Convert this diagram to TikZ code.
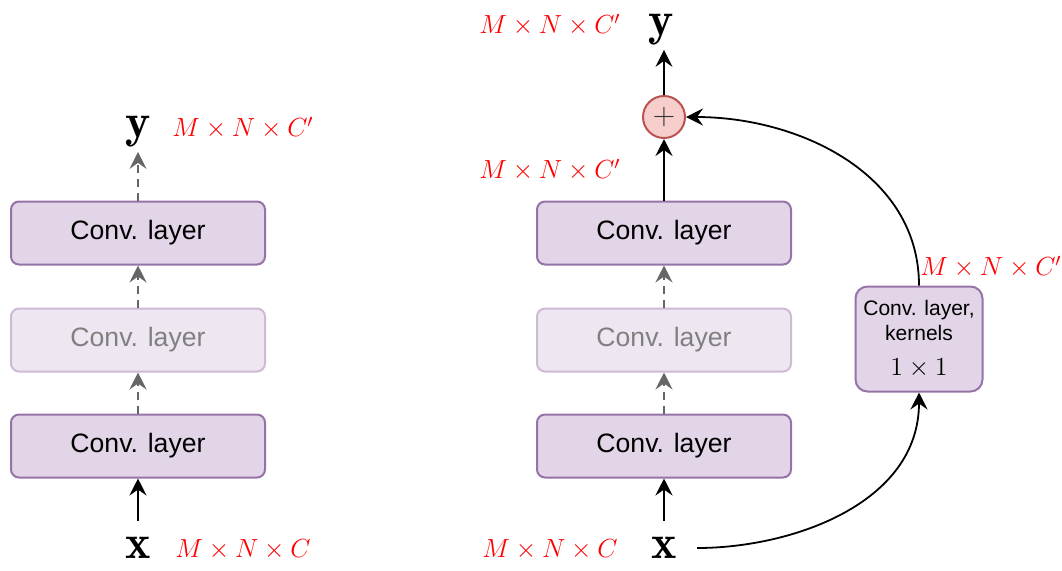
\RequirePackage{fix-cm}
\documentclass[tikz,border=0pt]{standalone}
\usepackage{fontspec}
\newfontfamily\arial{Liberation Sans}
\usetikzlibrary{arrows.meta}
\definecolor{layerfill}{HTML}{E1D5E7}
\definecolor{layerdraw}{HTML}{9673A6}
\definecolor{ghostfill}{HTML}{EEE7F1}
\definecolor{ghostdraw}{HTML}{CDBBD4}
\definecolor{sumfill}{HTML}{F8CECC}
\definecolor{sumdraw}{HTML}{B85450}
\definecolor{dimred}{HTML}{FF0000}
\tikzset{
  layer/.style={draw=layerdraw, fill=layerfill, line width=1pt, rounded corners=4pt,
    minimum width=127pt, minimum height=31.5pt, font=\arial\fontsize{13.3}{15}\selectfont},
  ghost/.style={layer, draw=ghostdraw, fill=ghostfill, text=black!50},
  sidelayer/.style={layer, minimum width=63.5pt, minimum height=52.5pt, rounded corners=6pt,
    align=center, inner sep=1pt, font=\arial\fontsize{10.5}{12.5}\selectfont},
  sumnode/.style={circle, draw=sumdraw, fill=sumfill, line width=1pt, minimum size=21pt, inner sep=0pt,
    font=\fontsize{15}{15}\selectfont, text=black!80},
  vec/.style={font=\fontsize{24}{26}\selectfont, inner sep=2pt},
  dims/.style={text=dimred, font=\fontsize{13.1}{15}\selectfont},
  flow/.style={->, line width=0.9pt},
  skip/.style={->, line width=0.9pt, gray!80!black, dashed, dash pattern=on 4pt off 3pt}
}
\begin{document}
\begin{tikzpicture}[x=0.5pt, y=-0.5pt, >={Stealth[length=8.5pt, width=8.5pt, inset=3pt]}]
  \useasboundingbox (0,0) rectangle (1062,570);
  % plain stack
  \node[vec] (xa) at (138,548) {$\mathbf{x}$};
  \node[layer] (a1) at (138,446) {Conv. layer};
  \node[ghost] (a2) at (138,340) {Conv. layer};
  \node[layer] (a3) at (138,233) {Conv. layer};
  \node[vec] (ya) at (138,132) {$\mathbf{y}$};
  \node[dims] at (243,128) {$M\times N\times C'$};
  \node[dims] at (243,550) {$M\times N\times C$};
  \draw[flow, shorten <=6pt] (xa.north) -- (a1.south);
  \draw[skip] (a1.north) -- (a2.south);
  \draw[skip] (a2.north) -- (a3.south);
  \draw[skip] (a3.north) -- (ya.south);
  % residual stack
  \node[vec] (xb) at (664,548) {$\mathbf{x}$};
  \node[layer] (b1) at (664,446) {Conv. layer};
  \node[ghost] (b2) at (664,340) {Conv. layer};
  \node[layer] (b3) at (664,233) {Conv. layer};
  \node[sumnode] (sum) at (664,117) {$+$};
  \node[vec] (yb) at (661,30) {$\mathbf{y}$};
  \node[sidelayer] (side) at (919,339) {Conv. layer,\\kernels\\[5pt]{\fontsize{13}{14}\selectfont$1\times1$}};
  \node[dims] at (550,25) {$M\times N\times C'$};
  \node[dims] at (550,170) {$M\times N\times C'$};
  \node[dims] at (550,550) {$M\times N\times C$};
  \node[dims] at (991,267) {$M\times N\times C'$};
  \draw[flow, shorten <=6pt] (xb.north) -- (b1.south);
  \draw[skip] (b1.north) -- (b2.south);
  \draw[skip] (b2.north) -- (b3.south);
  \draw[flow] (b3.north) -- (sum.south);
  \draw[flow] (sum.north) -- (sum.north |- yb.south);
  \draw[flow, shorten <=8pt] (xb.east) to[out=0, in=-90] (side.south);
  \draw[flow] (side.north) to[out=90, in=0] (sum.east);
\end{tikzpicture}
\end{document}
